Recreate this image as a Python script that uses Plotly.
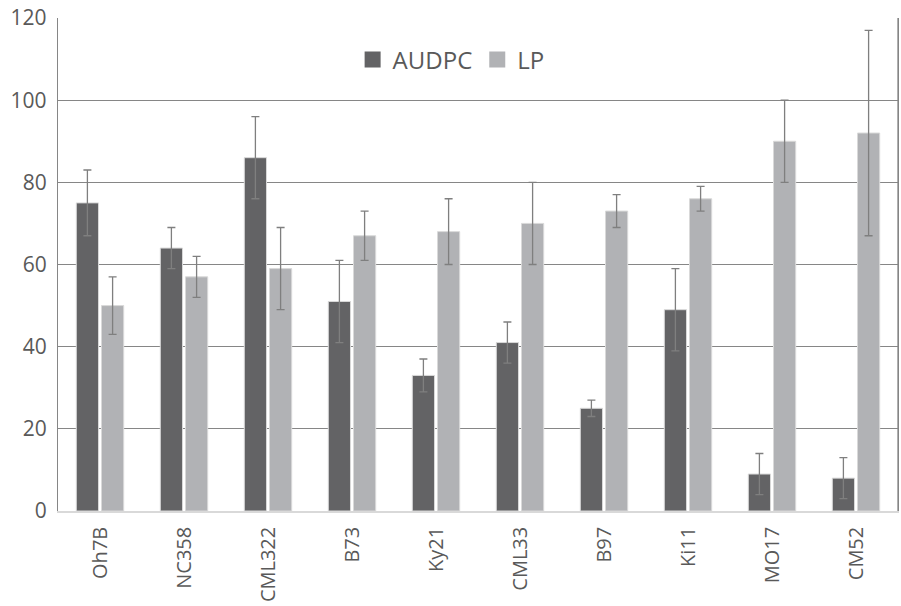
import plotly.graph_objects as go

categories = ["Oh7B", "NC358", "CML322", "B73", "Ky21", "CML33", "B97", "Ki11", "MO17", "CM52"]
audpc = [75, 64, 86, 51, 33, 41, 25, 49, 9, 8]
audpc_err = [8, 5, 10, 10, 4, 5, 2, 10, 5, 5]
lp = [50, 57, 59, 67, 68, 70, 73, 76, 90, 92]
lp_err = [7, 5, 10, 6, 8, 10, 4, 3, 10, 25]
y_ticks = [0, 20, 40, 60, 80, 100, 120]
series_names = ["AUDPC", "LP"]
series_colors = ["#636365", "#b1b2b5"]

font_family = "Open Sans, Liberation Sans, sans-serif"
text_color = "#595959"
grid_color = "#868686"
err_color = "#7f7f7f"

fig = go.Figure()
for name, vals, errs, col in [(series_names[0], audpc, audpc_err, series_colors[0]),
                              (series_names[1], lp, lp_err, series_colors[1])]:
    fig.add_trace(go.Bar(
        name=name, x=categories, y=vals, showlegend=False,
        marker=dict(color=col, line=dict(color="#d9d9d9", width=1)),
        error_y=dict(type="data", array=errs, visible=True,
                     color=err_color, thickness=1.3, width=4),
    ))
# legend entries with larger square swatches
for name, col in zip(series_names, series_colors):
    fig.add_trace(go.Scatter(
        name=name, x=[None], y=[None], mode="markers",
        marker=dict(symbol="square", size=16, color=col), showlegend=True,
    ))

fig.update_layout(
    width=901, height=606,
    margin=dict(l=58, r=3, t=18, b=95),
    paper_bgcolor="white", plot_bgcolor="white",
    barmode="group", bargap=0.4, bargroupgap=0.12,
    font=dict(family=font_family, size=20, color=text_color),
    showlegend=True,
    legend=dict(orientation="h", x=0.468, y=0.915, xanchor="center", yanchor="middle",
                font=dict(size=24, color=text_color), bgcolor="rgba(0,0,0,0)",
                itemwidth=30, traceorder="normal"),
)
fig.update_xaxes(
    tickangle=-90, tickfont=dict(size=20, color=text_color),
    showline=True, linecolor="#d9d9d9", linewidth=1.5,
    mirror=False, ticks="", showgrid=False, ticklabelstandoff=6,
)
fig.update_yaxes(
    range=[0, 120], tickvals=y_ticks, ticktext=[str(v) for v in y_ticks],
    tickfont=dict(size=21, color=text_color),
    showgrid=True, gridcolor=grid_color, gridwidth=1.3,
    showline=True, linecolor=grid_color, linewidth=1.3, mirror=True,
    zeroline=False, ticks="", ticklabelstandoff=6,
)
fig.add_shape(type="line", xref="paper", yref="paper", x0=1, x1=1, y0=0, y1=1,
              line=dict(color=grid_color, width=1.3))

fig.write_html("out.html")
